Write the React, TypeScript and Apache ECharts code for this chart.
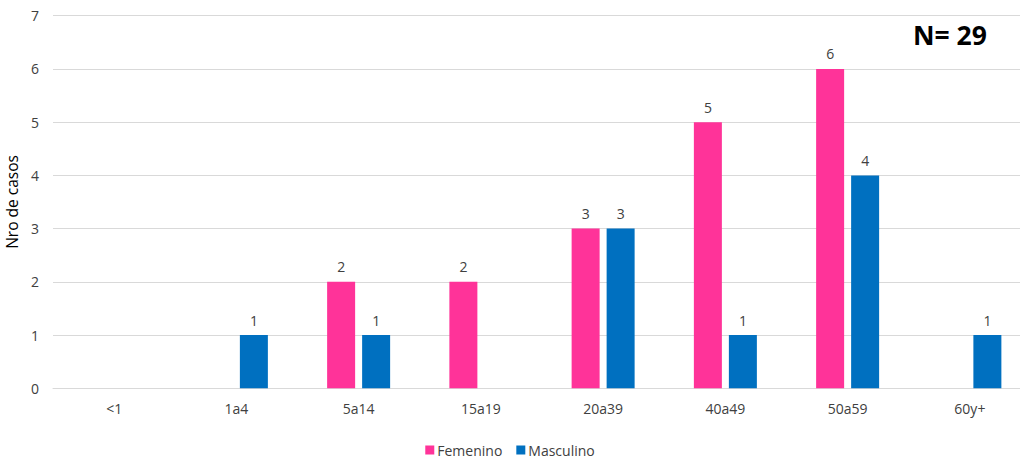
import React, { useEffect, useRef } from "react";
import * as echarts from "echarts";

const categories = ["<1", "1a4", "5a14", "15a19", "20a39", "40a49", "50a59", "60y+"];
const femenino = [null, null, 2, 2, 3, 5, 6, null];
const masculino = [null, 1, 1, null, 3, 1, 4, 1];
const yTicks = [0, 1, 2, 3, 4, 5, 6, 7];

const FONT = "'Open Sans', 'Noto Sans', sans-serif";
const TXT = "#404040";

export default function App() {
  const ref = useRef<HTMLDivElement>(null);
  useEffect(() => {
    if (!ref.current) return;
    const chart = echarts.init(ref.current, null, { renderer: "svg" });
    chart.setOption({
      animation: false,
      textStyle: { fontFamily: FONT },
      grid: {
        left: 53,
        top: 15.7,
        width: 978,
        height: 372.6,
        containLabel: false,
        outerBoundsMode: "none",
      },
      legend: {
        bottom: 1,
        left: "center",
        itemWidth: 9,
        itemHeight: 9,
        itemGap: 14,
        icon: "rect",
        textStyle: { color: TXT, fontSize: 14, fontFamily: FONT, padding: [0, 0, 0, -2] },
        data: ["Femenino", "Masculino"],
      },
      graphic: [
        {
          type: "text",
          left: 913,
          top: 21,
          style: { text: "N= 29", fontSize: 26.5, fontWeight: "bold", fill: "#000", fontFamily: FONT },
        },
      ],
      xAxis: {
        type: "category",
        data: categories,
        axisLine: { show: true, lineStyle: { color: "#d9d9d9" } },
        axisTick: { show: false },
        axisLabel: { color: TXT, fontSize: 14, margin: 13, fontFamily: FONT },
      },
      yAxis: {
        type: "value",
        min: yTicks[0],
        max: yTicks[yTicks.length - 1],
        interval: 1,
        name: "Nro de casos",
        nameLocation: "middle",
        nameGap: 29,
        nameTextStyle: { color: "#000", fontSize: 15.5, fontFamily: FONT },
        axisLine: { show: false },
        axisTick: { show: false },
        axisLabel: { color: TXT, fontSize: 14, margin: 14, fontFamily: FONT },
        splitLine: { lineStyle: { color: "#d9d9d9" } },
      },
      series: [
        {
          name: "Femenino",
          type: "bar",
          data: femenino,
          barWidth: 28,
          barGap: "25%",
          itemStyle: { color: "#FF3399" },
          label: { show: true, position: "top", distance: 8, color: TXT, fontSize: 14, fontFamily: FONT },
        },
        {
          name: "Masculino",
          type: "bar",
          data: masculino,
          barWidth: 28,
          barGap: "25%",
          itemStyle: { color: "#0070C0" },
          label: { show: true, position: "top", distance: 8, color: TXT, fontSize: 14, fontFamily: FONT },
        },
      ],
    });
    return () => chart.dispose();
  }, []);
  return (
    <div
      ref={ref}
      style={{ position: "fixed", left: 0, top: 0, width: 1020, height: 463, background: "#fff" }}
    />
  );
}
